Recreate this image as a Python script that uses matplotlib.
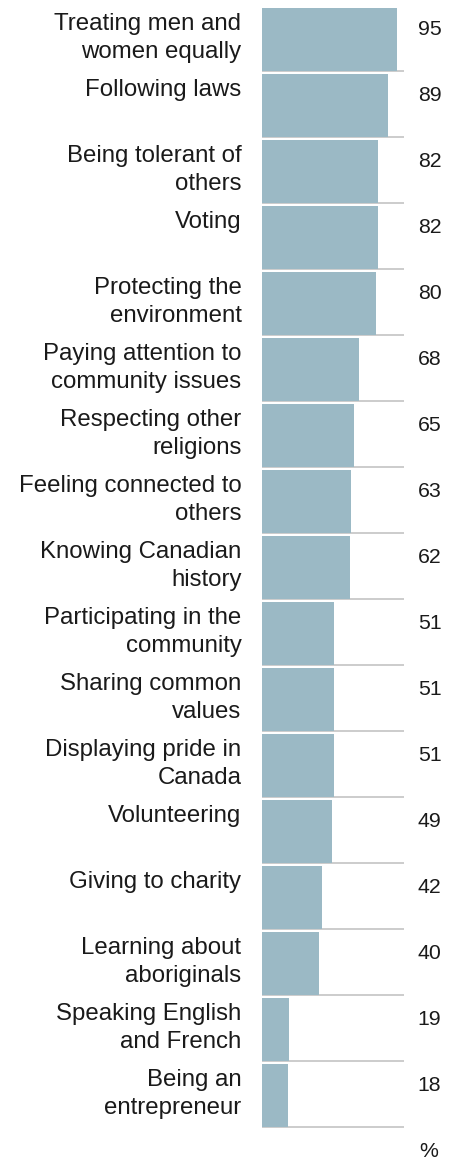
import matplotlib
matplotlib.use('Agg')
import matplotlib.pyplot as plt
import numpy as np

labels = ['Treating men and\nwomen equally', 'Following laws', 'Being tolerant of\nothers', 'Voting',
          'Protecting the\nenvironment', 'Paying attention to\ncommunity issues', 'Respecting other\nreligions',
          'Feeling connected to\nothers', 'Knowing Canadian\nhistory', 'Participating in the\ncommunity',
          'Sharing common\nvalues', 'Displaying pride in\nCanada', 'Volunteering', 'Giving to charity',
          'Learning about\naboriginals', 'Speaking English\nand French', 'Being an\nentrepreneur']
values = [95, 89, 82, 82, 80, 68, 65, 63, 62, 51, 51, 51, 49, 42, 40, 19, 18]

plt.rcParams['font.family'] = ['Liberation Sans', 'DejaVu Sans']

W, H = 454, 1163
fig = plt.figure(figsize=(W / 100, H / 100), dpi=100)
# axes: x 262..404 px (0..100), y 8..1130 px (17 rows of 66 px)
ax = fig.add_axes([262 / W, (H - 1130) / H, 142 / W, 1122 / H])

index = np.arange(len(values))
bar_h = 0.955
ax.barh(index, values, height=bar_h, align='edge', color='#9bb9c5', zorder=2)
ax.hlines(index + bar_h, 0, 100, color='#c8c8c8', linewidth=1.3, zorder=1)

for i, (lab, v) in enumerate(zip(labels, values)):
    ax.text(-14.5, i + 0.07, lab, ha='right', va='top', fontsize=17.3, color='#1a1a1a',
            linespacing=1.4, clip_on=False)
    ax.text(118, i + 0.33, '%d' % v, ha='center', va='center', fontsize=15.3, color='#1a1a1a',
            clip_on=False)

ax.text(117.5, 17.32, '%', ha='center', va='center', fontsize=15.3, color='#1a1a1a', clip_on=False)

ax.set_xlim(0, 100)
ax.set_ylim(len(values), 0)
ax.axis('off')

plt.savefig('out.png', dpi=100)
